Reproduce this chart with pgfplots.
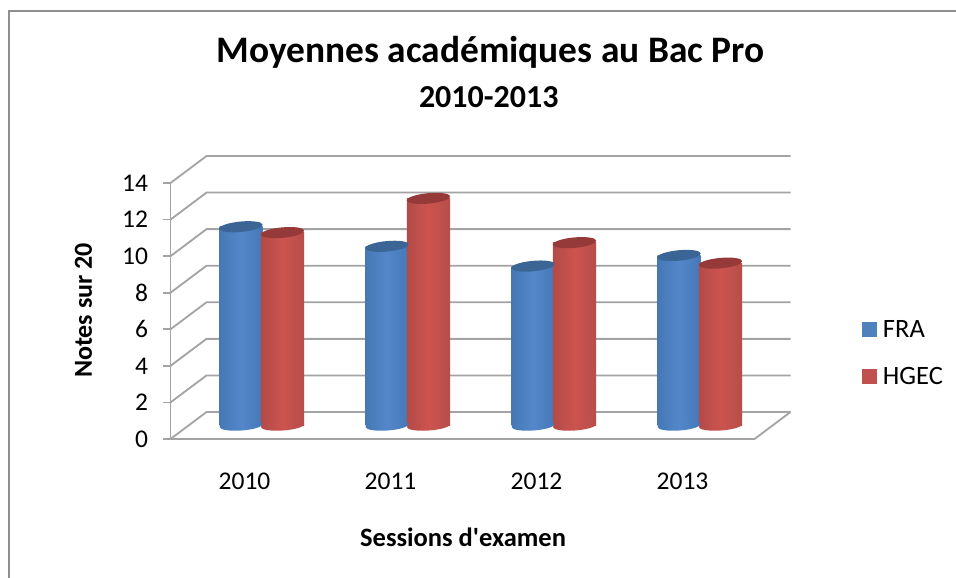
\documentclass[border=0pt]{standalone}
\usepackage{fontspec}
\setmainfont[Ligatures=TeXOff]{Carlito}
\usepackage{pgfplots}
\usepackage{pgfplotstable}
\pgfplotsset{compat=1.18}
\definecolor{gridc}{HTML}{A3A3A3}
\definecolor{framec}{HTML}{8E8E8E}
\definecolor{fblue}{HTML}{4F81BD}
\definecolor{fred}{HTML}{C0504D}
\definecolor{tblue}{HTML}{3A6595}
\definecolor{tred}{HTML}{953A38}
\pgfdeclarehorizontalshading{cylblue}{100bp}{rgb(0bp)=(0.19,0.36,0.56);rgb(25bp)=(0.27,0.47,0.71);rgb(50bp)=(0.33,0.53,0.79);rgb(75bp)=(0.27,0.47,0.72);rgb(100bp)=(0.22,0.39,0.60)}
\pgfdeclarehorizontalshading{cylred}{100bp}{rgb(0bp)=(0.47,0.18,0.18);rgb(25bp)=(0.70,0.29,0.28);rgb(50bp)=(0.80,0.33,0.31);rgb(75bp)=(0.72,0.30,0.29);rgb(100bp)=(0.48,0.18,0.17)}
\pgfdeclareplotmark{baseblue}{\pgfpathellipse{\pgfpointorigin}{\pgfpoint{21.5pt}{1.5pt}}{\pgfpoint{-0.4pt}{5pt}}\pgfshadepath{cylblue}{0}\pgfusepath{}}
\pgfdeclareplotmark{basered}{\pgfpathellipse{\pgfpointorigin}{\pgfpoint{21.7pt}{1.5pt}}{\pgfpoint{-0.4pt}{5pt}}\pgfshadepath{cylred}{0}\pgfusepath{}}
\pgfdeclareplotmark{topcap}{\pgfpathellipse{\pgfpointorigin}{\pgfpoint{21.7pt}{2pt}}{\pgfpoint{-0.4pt}{5.2pt}}\pgfusepathqfill}
\pgfplotstableread{
x y
0 10.87
1 9.80
2 8.72
3 9.30
}\blue
\pgfplotstableread{
x y
0 10.55
1 12.42
2 10.00
3 8.88
}\red
\newcommand{\fs}[1]{\fontsize{#1}{#1}\selectfont}
\begin{document}
\begin{tikzpicture}[x=1pt,y=1pt]
\path[use as bounding box] (0,0) rectangle (956,578);
\fill[white] (0,0) rectangle (956,578);
\draw[framec,line width=1.6pt] (9,0) -- (9,567) -- (956,567);
\begin{axis}[
  at={(170.5pt,139pt)},anchor=south west,scale only axis,width=584pt,height=256pt,
  xmin=-0.5,xmax=3.5,ymin=0,ymax=14,clip=false,
  axis x line*=bottom,axis y line*=left,
  axis line style={gridc,line width=1.8pt,-},
  xtick={0,1,2,3},xticklabels={2010,2011,2012,2013},
  ytick={0,2,...,14},
  /pgf/number format/assume math mode=true,
  tick style={gridc,line width=1.8pt},
  tick align=outside,
  x tick style={draw=none},
  major tick length=7pt,
  xticklabel style={font=\fs{25.5},anchor=center,yshift=-35pt,xshift=1pt},
  yticklabel style={font=\fs{25.5},anchor=east,xshift=-12pt},
  xlabel={Sessions d'examen},
  xlabel style={font=\fs{26.5}\bfseries,at={(axis description cs:0.501,-0.383)},anchor=center},
  ylabel={Notes sur 20},
  ylabel style={font=\fs{26}\bfseries,at={(axis description cs:-0.149,0.502)},anchor=center},
  title={Moyennes académiques au Bac Pro},
  title style={font=\fs{37.4}\bfseries,at={(axis description cs:0.548,1.488)},anchor=center},
]
\pgfplotsinvokeforeach{0,2,4,6,8,10,12,14}{
  \addplot[gridc,line width=1.8pt,no markers] coordinates {(-0.5,#1) (-0.2534,#1+1.476) (3.7466,#1+1.476)};
}
\addplot[gridc,line width=1.8pt,no markers] coordinates {(3.5,0) (3.7466,1.476)};
\node[font=\fs{32}\bfseries] at (axis description cs:0.545,1.336) {2010-2013};
\end{axis}
\begin{axis}[
  at={(170.5pt,139pt)},anchor=south west,scale only axis,width=584pt,height=256pt,
  xmin=-0.6233,xmax=3.3767,ymin=-0.738,ymax=13.262,clip=false,hide axis,
  legend style={draw=none,fill=none,at={(axis description cs:1.1837,0.336)},anchor=west,
    font=\fs{26.5},row sep=24pt,inner sep=0pt,/tikz/every odd column/.style={column sep=4pt}},
  legend cell align=left,
  legend image code/.code={\fill[#1] (0pt,-7.5pt) rectangle (15pt,7.5pt);},
]
\addlegendimage{fill=fblue,draw=none}\addlegendentry{FRA}
\addlegendimage{fill=fred,draw=none}\addlegendentry{HGEC}
\pgfplotsinvokeforeach{0,1,2,3}{
\addplot[only marks,mark=baseblue,mark options={xshift=-20.5pt},forget plot,restrict x to domain=#1:#1] table[x=x,y expr=0] {\blue};
\addplot[ybar,bar width=43pt,bar shift=-20.5pt,draw=none,shade,shading=cylblue,forget plot,restrict x to domain=#1:#1] table[x=x,y=y] {\blue};
\addplot[only marks,mark=topcap,mark options={xshift=-20.5pt,fill=tblue,draw=none},forget plot,restrict x to domain=#1:#1] table[x=x,y=y] {\blue};
\addplot[only marks,mark=basered,mark options={xshift=21pt},forget plot,restrict x to domain=#1:#1] table[x=x,y expr=0] {\red};
\addplot[ybar,bar width=43.4pt,bar shift=21pt,draw=none,shade,shading=cylred,forget plot,restrict x to domain=#1:#1] table[x=x,y=y] {\red};
\addplot[only marks,mark=topcap,mark options={xshift=21pt,fill=tred,draw=none},forget plot,restrict x to domain=#1:#1] table[x=x,y=y] {\red};
}
\end{axis}
\end{tikzpicture}
\end{document}
